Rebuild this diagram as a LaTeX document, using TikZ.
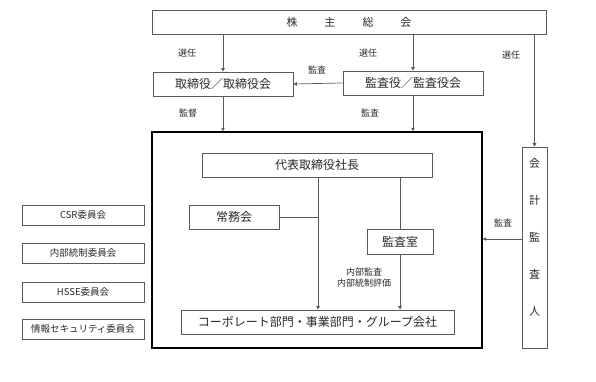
\documentclass[tikz,border=0pt]{standalone}
\usepackage{fontspec}
\setmainfont{Noto Sans CJK JP}
\usepackage{xcolor}
\definecolor{jpline}{RGB}{90,90,90}
\definecolor{jptext}{RGB}{40,40,40}
\usetikzlibrary{arrows.meta,positioning,calc}

\begin{document}
\begin{tikzpicture}[x=1pt, y=-1pt,
    box/.style={draw=jpline, line width=0.7pt, inner sep=0pt, text=jptext,
                font=\fontsize{12}{14}\selectfont},
    cmte/.style={box, minimum width=122pt, minimum height=20pt,
                 font=\fontsize{9.5}{11}\selectfont},
    lbl/.style={font=\fontsize{9}{11}\selectfont, text=jptext, inner sep=0pt},
    arr/.style={-{Triangle[length=3.5pt,width=3.5pt]}, line width=0.7pt, jpline},
    ln/.style={line width=0.7pt, jpline}
  ]
    \useasboundingbox (0,0) rectangle (596,382);

    % General meeting of shareholders
    \node[box, minimum width=394pt, minimum height=24pt,
          font=\fontsize{11}{13}\selectfont] (gm) at (349,22)
      {株\hspace{27pt}主\hspace{27pt}総\hspace{27pt}会};

    % Board and auditors
    \node[box, minimum width=140pt, minimum height=24pt] (board) at (223,84)
      {取締役／取締役会};
    \node[box, minimum width=140pt, minimum height=24pt] (audit) at (413,83)
      {監査役／監査役会};

    % Accounting auditor
    \node[box, minimum width=25pt, minimum height=201pt] (acct) at (534.5,247.5) {};
    \node[font=\fontsize{11}{37}\selectfont, align=center, text=jptext,
          inner sep=0pt] (acctlbl) at (534.5,237) {会\\計\\監\\査\\人};

    % Executive frame
    \node[draw=black, line width=1.4pt, minimum width=330pt,
          minimum height=216pt] (frame) at (317,240) {};
    \node[box, minimum width=230pt, minimum height=24pt] (ceo) at (317,165)
      {代表取締役社長};
    \node[box, minimum width=90pt, minimum height=24pt] (jomu) at (234,217)
      {常務会};
    \node[box, minimum width=66pt, minimum height=25pt] (office) at (400,241.5)
      {監査室};
    \node[box, minimum width=273pt, minimum height=24pt] (corp) at (317.5,322)
      {コーポレート部門・事業部門・グループ会社};

    % Committees
    \node[cmte] (csr)  at (83,215) {CSR委員会};
    \node[cmte] (ic)   at (83,253) {内部統制委員会};
    \node[cmte] (hsse) at (83,292) {HSSE委員会};
    \node[cmte] (isec) at (83,329) {情報セキュリティ委員会};

    % Connectors from the meeting
    \draw[arr] (gm.south -| board) -- (board.north);
    \draw[arr] (gm.south -| audit) -- (audit.north);
    \draw[arr] (gm.south -| acct) -- (acct.north);
    \node[lbl] (sel1) at (187,53) {選任};
    \node[lbl] (sel2) at (368,53) {選任};
    \node[lbl] (sel3) at (511,55) {選任};

    \draw[arr] (audit.west) -- (board.east);
    \node[lbl] (aud1) at (317,70) {監査};

    \draw[arr] (board.south) -- (board.south |- frame.north);
    \node[lbl] (sup1) at (188,113) {監督};
    \draw[arr] (audit.south) -- (audit.south |- frame.north);
    \node[lbl] (aud2) at (370,113) {監査};

    \draw[arr] ([yshift=8.5pt]acct.west) -- ([yshift=8.5pt]acct.west -| frame.east);
    \node[lbl] (aud3) at (503,223) {監査};

    % Inside the frame
    \coordinate (spine) at (318,0);
    \draw[arr] (ceo.south -| spine) -- (corp.north -| spine);
    \draw[ln] (jomu.east) -- (jomu.east -| spine);
    \draw[ln] (ceo.south -| office) -- (office.north);
    \draw[arr] (office.south) -- (office.south |- corp.north);
    \node[lbl, align=center] (audnote) at (364,278)
      {内部監査\\内部統制評価};
\end{tikzpicture}
\end{document}
